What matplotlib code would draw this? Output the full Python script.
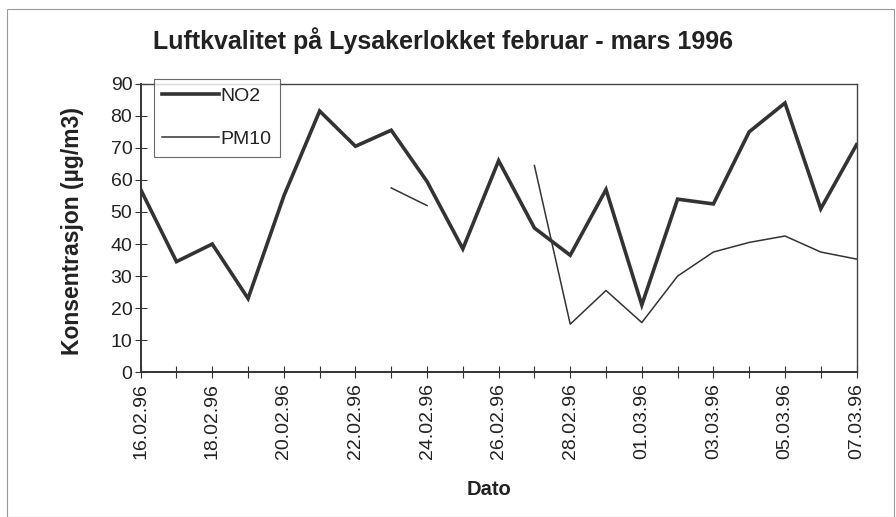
import numpy as np
import matplotlib.pyplot as plt
from matplotlib.ticker import MultipleLocator, FixedLocator
from matplotlib.patches import Rectangle

plt.rcParams['font.family'] = ['Liberation Sans', 'DejaVu Sans']

dates = ["16.02.96", "17.02.96", "18.02.96", "19.02.96", "20.02.96", "21.02.96",
         "22.02.96", "23.02.96", "24.02.96", "25.02.96", "26.02.96", "27.02.96",
         "28.02.96", "29.02.96", "01.03.96", "02.03.96", "03.03.96", "04.03.96",
         "05.03.96", "06.03.96", "07.03.96"]
no2 = [57, 34.5, 40, 23, 55, 81.5, 70.5, 75.5, 59.5, 38.5, 66, 45,
       36.5, 57, 21, 54, 52.5, 75, 84, 51, 71]
pm10 = [np.nan, np.nan, np.nan, np.nan, np.nan, np.nan, np.nan, 57.5, 52,
        np.nan, np.nan, 64.5, 15, 25.5, 15.5, 30, 37.5, 40.5, 42.5, 37.5, 35.3]

x = np.arange(len(dates))
ink = "#333333"

fig = plt.figure(figsize=(8.96, 5.17), dpi=100)
fig.patches.append(Rectangle((0.008, 0.0), 0.99, 0.982, transform=fig.transFigure,
                             fill=False, edgecolor="#999999", lw=0.8))
ax = fig.add_axes([0.157, 0.280, 0.799, 0.558])

ax.plot(x, no2, color=ink, lw=2.6, label="NO2", solid_joinstyle="miter")
ax.plot(x, pm10, color=ink, lw=1.1, label="PM10")

ax.set_xlim(0, len(dates) - 1)
ax.set_ylim(0, 90)
ax.yaxis.set_major_locator(MultipleLocator(10))
ax.xaxis.set_major_locator(FixedLocator(x[::2]))
ax.xaxis.set_minor_locator(FixedLocator(x[1::2]))
ax.set_xticklabels(dates[::2], rotation=90)
ax.tick_params(axis="both", which="both", direction="inout", length=8, width=0.8,
               color=ink, labelsize=14, labelcolor="#222222")
ax.tick_params(axis="y", pad=2)
ax.tick_params(axis="x", pad=4)

for side in ["left", "bottom"]:
    ax.spines[side].set_linewidth(1.4)
    ax.spines[side].set_color(ink)
for side in ["top", "right"]:
    ax.spines[side].set_linewidth(1.0)
    ax.spines[side].set_color("#444444")

ax.set_title("Luftkvalitet på Lysakerlokket februar - mars 1996", fontsize=18,
             fontweight="bold", color="#222222", x=0.423, pad=25)
ax.set_ylabel("Konsentrasjon (µg/m3)", fontsize=16.5, fontweight="bold", color="#222222")
ax.yaxis.set_label_coords(-0.079, 0.491)
ax.set_xlabel("Dato", fontsize=14.5, fontweight="bold", color="#222222")
ax.xaxis.set_label_coords(0.487, -0.372)

leg = ax.legend(loc="upper left", bbox_to_anchor=(0.018, 1.017), borderaxespad=0,
                fontsize=14, frameon=True, fancybox=False, handlelength=2.9,
                handletextpad=0.1, borderpad=0.45, labelspacing=1.3)
leg.get_frame().set_edgecolor("#444444")
leg.get_frame().set_linewidth(0.8)
for t in leg.get_texts():
    t.set_color("#222222")

fig.savefig("out.png", dpi=100)
